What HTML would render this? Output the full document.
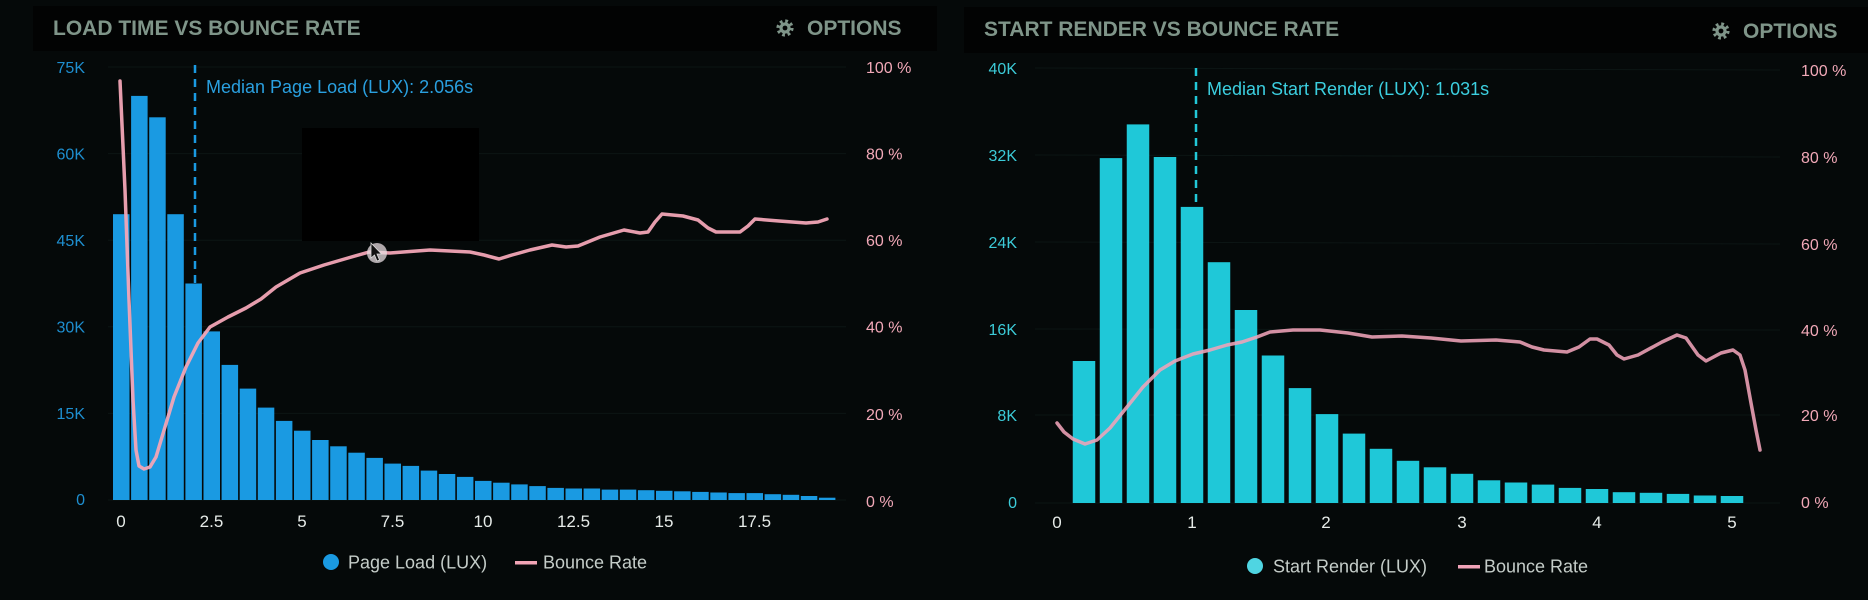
<!DOCTYPE html>
<html>
<head>
<meta charset="utf-8">
<style>
html,body{margin:0;padding:0;background:#050909;}
svg{display:block;}
text{font-family:"Liberation Sans",sans-serif;}
</style>
</head>
<body>
<svg width="1868" height="600" viewBox="0 0 1868 600" xmlns="http://www.w3.org/2000/svg">
  <rect x="0" y="0" width="1868" height="600" fill="#050909"/>

  <!-- ============ LEFT HEADER ============ -->
  <rect x="33" y="6" width="904" height="45" fill="#020303"/>
  <text x="53" y="35" font-size="21" font-weight="bold" fill="#7f9589">LOAD TIME VS BOUNCE RATE</text>
  <g transform="translate(785,28)">
    <circle r="6.8" fill="none" stroke="#7f9589" stroke-width="3.6" stroke-dasharray="2.67 2.67"/>
    <circle r="5.6" fill="#7f9589"/>
    <circle r="2.4" fill="#020303"/>
  </g>
  <text x="807" y="35" font-size="21" font-weight="bold" fill="#7f9589">OPTIONS</text>

  <!-- ============ RIGHT HEADER ============ -->
  <rect x="964" y="7" width="904" height="46" fill="#020303"/>
  <text x="984" y="36" font-size="21" font-weight="bold" fill="#7f9589">START RENDER VS BOUNCE RATE</text>
  <g transform="translate(1721,31)">
    <circle r="6.8" fill="none" stroke="#7f9589" stroke-width="3.6" stroke-dasharray="2.67 2.67"/>
    <circle r="5.6" fill="#7f9589"/>
    <circle r="2.4" fill="#020303"/>
  </g>
  <text x="1743" y="38" font-size="21" font-weight="bold" fill="#7f9589">OPTIONS</text>

  <!-- ============ LEFT CHART ============ -->
  <g stroke="#0c1514" stroke-width="1">
    <line x1="108" y1="67" x2="846" y2="67"/>
    <line x1="108" y1="153.6" x2="846" y2="153.6"/>
    <line x1="108" y1="240.2" x2="846" y2="240.2"/>
    <line x1="108" y1="326.8" x2="846" y2="326.8"/>
    <line x1="108" y1="413.4" x2="846" y2="413.4"/>
    <line x1="108" y1="500" x2="846" y2="500"/>
  </g>
  <g font-size="16" fill="#1e8fd0" text-anchor="end" font-weight="500">
    <text x="85" y="73">75K</text>
    <text x="85" y="159.5">60K</text>
    <text x="85" y="246">45K</text>
    <text x="85" y="332.5">30K</text>
    <text x="85" y="419">15K</text>
    <text x="85" y="505">0</text>
  </g>
  <g font-size="16" fill="#f2a9b8" font-weight="500">
    <text x="866" y="73">100 %</text>
    <text x="866" y="159.5">80 %</text>
    <text x="866" y="246">60 %</text>
    <text x="866" y="332.5">40 %</text>
    <text x="866" y="420">20 %</text>
    <text x="866" y="507">0 %</text>
  </g>
  <line x1="195" y1="65" x2="195" y2="500" stroke="#1a9ae2" stroke-width="2.5" stroke-dasharray="8 6"/>
  <text x="206" y="93" font-size="18" fill="#2aa0e0">Median Page Load (LUX): 2.056s</text>
  <g fill="#1a9ae2">
    <rect x="113" y="214.2" width="16.5" height="285.8"/>
    <rect x="131.1" y="95.9" width="16.5" height="404.1"/>
    <rect x="149.2" y="117.3" width="16.5" height="382.7"/>
    <rect x="167.3" y="214.2" width="16.5" height="285.8"/>
    <rect x="185.4" y="283.5" width="16.5" height="216.5"/>
    <rect x="203.5" y="331.4" width="16.5" height="168.6"/>
    <rect x="221.6" y="364.9" width="16.5" height="135.1"/>
    <rect x="239.7" y="388.6" width="16.5" height="111.4"/>
    <rect x="257.8" y="407.6" width="16.5" height="92.4"/>
    <rect x="275.9" y="420.9" width="16.5" height="79.1"/>
    <rect x="294" y="430.7" width="16.5" height="69.3"/>
    <rect x="312.1" y="440" width="16.5" height="60"/>
    <rect x="330.2" y="446.3" width="16.5" height="53.7"/>
    <rect x="348.3" y="452.7" width="16.5" height="47.3"/>
    <rect x="366.4" y="457.9" width="16.5" height="42.1"/>
    <rect x="384.5" y="463.6" width="16.5" height="36.4"/>
    <rect x="402.6" y="465.9" width="16.5" height="34.1"/>
    <rect x="420.7" y="470.6" width="16.5" height="29.4"/>
    <rect x="438.8" y="474" width="16.5" height="26"/>
    <rect x="456.9" y="476.9" width="16.5" height="23.1"/>
    <rect x="475" y="480.9" width="16.5" height="19.1"/>
    <rect x="493.1" y="482.7" width="16.5" height="17.3"/>
    <rect x="511.2" y="484.4" width="16.5" height="15.6"/>
    <rect x="529.3" y="486.1" width="16.5" height="13.9"/>
    <rect x="547.4" y="487.9" width="16.5" height="12.1"/>
    <rect x="565.5" y="488.5" width="16.5" height="11.5"/>
    <rect x="583.6" y="488.5" width="16.5" height="11.5"/>
    <rect x="601.7" y="489.6" width="16.5" height="10.4"/>
    <rect x="619.8" y="489.6" width="16.5" height="10.4"/>
    <rect x="637.9" y="490.2" width="16.5" height="9.8"/>
    <rect x="656" y="490.8" width="16.5" height="9.2"/>
    <rect x="674.1" y="491.3" width="16.5" height="8.7"/>
    <rect x="692.2" y="491.9" width="16.5" height="8.1"/>
    <rect x="710.3" y="492.5" width="16.5" height="7.5"/>
    <rect x="728.4" y="493.1" width="16.5" height="6.9"/>
    <rect x="746.5" y="493.1" width="16.5" height="6.9"/>
    <rect x="764.6" y="494.2" width="16.5" height="5.8"/>
    <rect x="782.7" y="494.8" width="16.5" height="5.2"/>
    <rect x="800.8" y="496" width="16.5" height="4"/>
    <rect x="818.9" y="497.7" width="16.5" height="2.3"/>
  </g>
  <g font-size="17" fill="#e6ebe8" text-anchor="middle" font-weight="500">
    <text x="121" y="527">0</text>
    <text x="211.5" y="527">2.5</text>
    <text x="302" y="527">5</text>
    <text x="392.5" y="527">7.5</text>
    <text x="483" y="527">10</text>
    <text x="573.5" y="527">12.5</text>
    <text x="664" y="527">15</text>
    <text x="754.5" y="527">17.5</text>
  </g>
  <rect x="302" y="128" width="177" height="113" fill="#000"/>
  <path d="M120,81 L125,190 L129,300 L133,400 L136,450 L139,466 L144,469 L150,467 L156,457 L165,427 L174,397 L186,367 L198,343 L210,327 L228,317 L246,308 L261,299 L276,287 L300,273 L324,265 L348,258 L369,252 L390,253 L430,250 L470,252 L484,255 L499,259 L512,255 L530,250 L552,245 L566,247 L578,246 L600,237 L624,230 L640,233 L648,232 L655,222 L662,214 L683,216 L698,220 L708,228 L716,232 L740,232 L748,226 L755,219 L779,221 L806,223 L818,222 L827,219" fill="none" stroke="#f2a5b6" stroke-width="3.5" stroke-linejoin="round" stroke-linecap="round" stroke-opacity="0.95"/>
  <circle cx="377" cy="253" r="10" fill="#e8dde2" fill-opacity="0.75"/>
  <path d="M371,243 L371,258 L374.5,255 L377,261 L379.5,260 L377,254 L381.5,254 Z" fill="#111" stroke="#ddd" stroke-width="0.8"/>
  <circle cx="331" cy="562" r="8" fill="#1a9ae2"/>
  <text x="348" y="568.5" font-size="18" fill="#c5cdc9">Page Load (LUX)</text>
  <rect x="515" y="561" width="22" height="3.5" fill="#f2a5b6"/>
  <text x="543" y="568.5" font-size="18" fill="#c5cdc9">Bounce Rate</text>

  <!-- ============ RIGHT CHART ============ -->
  <g stroke="#0c1514" stroke-width="1">
    <line x1="1035" y1="68" x2="1780" y2="70"/>
    <line x1="1035" y1="155" x2="1780" y2="157"/>
    <line x1="1035" y1="242" x2="1780" y2="244"/>
    <line x1="1035" y1="329" x2="1780" y2="330"/>
    <line x1="1035" y1="415" x2="1780" y2="415"/>
    <line x1="1035" y1="503" x2="1780" y2="503"/>
  </g>
  <g font-size="16" fill="#3ccbd8" text-anchor="end" font-weight="500">
    <text x="1017" y="74">40K</text>
    <text x="1017" y="161">32K</text>
    <text x="1017" y="248">24K</text>
    <text x="1017" y="335">16K</text>
    <text x="1017" y="421">8K</text>
    <text x="1017" y="508">0</text>
  </g>
  <g font-size="16" fill="#f2a9b8" font-weight="500">
    <text x="1801" y="76">100 %</text>
    <text x="1801" y="163">80 %</text>
    <text x="1801" y="250">60 %</text>
    <text x="1801" y="336">40 %</text>
    <text x="1801" y="421">20 %</text>
    <text x="1801" y="508">0 %</text>
  </g>
  <line x1="1196" y1="68" x2="1196" y2="503" stroke="#22c8d8" stroke-width="2.5" stroke-dasharray="8 6"/>
  <text x="1207" y="95" font-size="18" fill="#3ccfe0">Median Start Render (LUX): 1.031s</text>
  <g fill="#1fc8d8">
    <rect x="1072.75" y="361" width="22.5" height="142"/>
    <rect x="1099.75" y="158.1" width="22.5" height="344.9"/>
    <rect x="1126.75" y="124.4" width="22.5" height="378.6"/>
    <rect x="1153.75" y="157" width="22.5" height="346"/>
    <rect x="1180.75" y="206.9" width="22.5" height="296.1"/>
    <rect x="1207.75" y="262.2" width="22.5" height="240.8"/>
    <rect x="1234.75" y="310" width="22.5" height="193"/>
    <rect x="1261.75" y="355.5" width="22.5" height="147.5"/>
    <rect x="1288.75" y="388.1" width="22.5" height="114.9"/>
    <rect x="1315.75" y="414.1" width="22.5" height="88.9"/>
    <rect x="1342.75" y="433.6" width="22.5" height="69.4"/>
    <rect x="1369.75" y="448.8" width="22.5" height="54.2"/>
    <rect x="1396.75" y="460.8" width="22.5" height="42.2"/>
    <rect x="1423.75" y="467.3" width="22.5" height="35.7"/>
    <rect x="1450.75" y="473.8" width="22.5" height="29.2"/>
    <rect x="1477.75" y="480.3" width="22.5" height="22.7"/>
    <rect x="1504.75" y="482.5" width="22.5" height="20.5"/>
    <rect x="1531.75" y="484.6" width="22.5" height="18.4"/>
    <rect x="1558.75" y="487.9" width="22.5" height="15.1"/>
    <rect x="1585.75" y="489" width="22.5" height="14"/>
    <rect x="1612.75" y="492.2" width="22.5" height="10.8"/>
    <rect x="1639.75" y="492.8" width="22.5" height="10.2"/>
    <rect x="1666.75" y="493.9" width="22.5" height="9.1"/>
    <rect x="1693.75" y="495.5" width="22.5" height="7.5"/>
    <rect x="1720.75" y="496" width="22.5" height="7"/>
  </g>
  <g font-size="17" fill="#e6ebe8" text-anchor="middle" font-weight="500">
    <text x="1057" y="528">0</text>
    <text x="1192" y="528">1</text>
    <text x="1326" y="528">2</text>
    <text x="1462" y="528">3</text>
    <text x="1597" y="528">4</text>
    <text x="1732" y="528">5</text>
  </g>
  <path d="M1057,423 L1064,432 L1073,439 L1085,444 L1097,440 L1110,428 L1127,407 L1143,387 L1160,370 L1175,361 L1193,354 L1210,350 L1227,345 L1242,342 L1257,337 L1270,332 L1293,330 L1320,330 L1348,333 L1372,337 L1402,336 L1431,338 L1461,341 L1496,340 L1520,342 L1532,347 L1544,350 L1567,352 L1579,347 L1590,339 L1597,339 L1609,345 L1617,355 L1624,359 L1638,355 L1662,342 L1677,335 L1686,338 L1698,355 L1706,361 L1721,353 L1733,350 L1740,355 L1745,370 L1751,403 L1756,430 L1760,450" fill="none" stroke="#f0a3b8" stroke-width="3.5" stroke-linejoin="round" stroke-linecap="round" stroke-opacity="0.88"/>
  <circle cx="1255" cy="566" r="8" fill="#4fd5e2"/>
  <text x="1273" y="572.5" font-size="18" fill="#c5cdc9">Start Render (LUX)</text>
  <rect x="1458" y="565" width="22" height="3.5" fill="#f0a3b8"/>
  <text x="1484" y="572.5" font-size="18" fill="#c5cdc9">Bounce Rate</text>
</svg>
</body>
</html>
